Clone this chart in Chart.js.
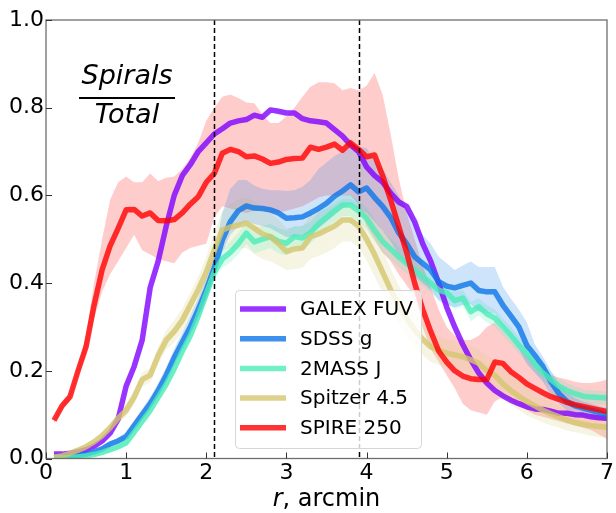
<!DOCTYPE html>
<html>
<head>
<meta charset="utf-8">
<script src="https://cdn.jsdelivr.net/npm/chart.js@4.4.1/dist/chart.umd.min.js"></script>
<style>
  body { margin: 0; background: #fff; }
  #wrap { width: 616px; height: 513px; position: relative; }
</style>
</head>
<body>
<div id="wrap"><canvas id="chart"></canvas></div>
<script>
// radius in arcmin, 0.1 step
const r = [0.1,0.2,0.3,0.4,0.5,0.6,0.7,0.8,0.9,1.0,
  1.1,1.2,1.3,1.4,1.5,1.6,1.7,1.8,1.9,2.0,
  2.1,2.2,2.3,2.4,2.5,2.6,2.7,2.8,2.9,3.0,
  3.1,3.2,3.3,3.4,3.5,3.6,3.7,3.8,3.9,4.0,
  4.1,4.2,4.3,4.4,4.5,4.6,4.7,4.8,4.9,5.0,
  5.1,5.2,5.3,5.4,5.5,5.6,5.7,5.8,5.9,6.0,
  6.1,6.2,6.3,6.4,6.5,6.6,6.7,6.8,6.9,7.0];

const galex = [0.010,0.010,0.012,0.015,0.020,0.028,0.040,0.058,0.090,0.165,
  0.210,0.270,0.390,0.450,0.530,0.600,0.645,0.670,0.700,0.720,
  0.740,0.752,0.765,0.770,0.773,0.783,0.778,0.795,0.792,0.788,
  0.788,0.775,0.770,0.768,0.765,0.750,0.735,0.715,0.700,0.665,
  0.645,0.630,0.605,0.585,0.575,0.540,0.490,0.450,0.400,0.345,
  0.300,0.260,0.225,0.195,0.172,0.155,0.143,0.133,0.125,0.118,
  0.113,0.112,0.108,0.103,0.103,0.100,0.099,0.095,0.093,0.092];

const sdss = [0.003,0.004,0.005,0.007,0.010,0.015,0.022,0.033,0.040,0.050,
  0.075,0.100,0.125,0.155,0.190,0.230,0.265,0.300,0.340,0.385,
  0.435,0.498,0.540,0.565,0.576,0.571,0.570,0.567,0.560,0.548,
  0.549,0.551,0.560,0.570,0.582,0.598,0.610,0.624,0.608,0.617,
  0.595,0.575,0.550,0.515,0.490,0.460,0.445,0.430,0.403,0.393,
  0.389,0.395,0.400,0.383,0.380,0.380,0.350,0.325,0.300,0.258,
  0.235,0.210,0.175,0.148,0.130,0.120,0.115,0.110,0.105,0.100];
const sdssHi = [0.005,0.006,0.007,0.010,0.013,0.019,0.027,0.039,0.048,0.060,
  0.087,0.113,0.140,0.172,0.208,0.250,0.287,0.325,0.366,0.413,
  0.470,0.560,0.615,0.635,0.635,0.622,0.615,0.612,0.612,0.610,
  0.612,0.620,0.635,0.660,0.675,0.690,0.700,0.710,0.710,0.708,
  0.680,0.660,0.630,0.600,0.570,0.540,0.510,0.490,0.460,0.445,
  0.430,0.440,0.449,0.437,0.437,0.437,0.392,0.365,0.340,0.310,
  0.260,0.232,0.200,0.170,0.150,0.138,0.130,0.125,0.120,0.115];
const sdssLo = [0.001,0.002,0.003,0.004,0.007,0.011,0.017,0.027,0.033,0.042,
  0.065,0.088,0.112,0.140,0.174,0.212,0.245,0.280,0.318,0.360,
  0.410,0.470,0.510,0.530,0.540,0.535,0.530,0.525,0.515,0.505,
  0.505,0.508,0.515,0.525,0.540,0.555,0.570,0.580,0.570,0.560,
  0.540,0.520,0.495,0.465,0.440,0.415,0.400,0.385,0.360,0.350,
  0.345,0.350,0.352,0.335,0.332,0.330,0.300,0.275,0.250,0.215,
  0.195,0.175,0.145,0.125,0.110,0.102,0.097,0.093,0.089,0.085];

const twomass = [0.002,0.002,0.003,0.004,0.006,0.009,0.014,0.020,0.027,0.036,
  0.060,0.085,0.110,0.140,0.170,0.205,0.245,0.280,0.325,0.375,
  0.425,0.455,0.470,0.490,0.514,0.494,0.500,0.506,0.495,0.491,
  0.506,0.503,0.515,0.535,0.550,0.565,0.578,0.578,0.565,0.548,
  0.520,0.495,0.478,0.460,0.445,0.430,0.415,0.400,0.384,0.378,
  0.360,0.366,0.335,0.346,0.330,0.320,0.300,0.280,0.258,0.240,
  0.215,0.195,0.180,0.165,0.155,0.148,0.142,0.140,0.139,0.138];
const twomassHi = [0.004,0.004,0.005,0.006,0.009,0.013,0.019,0.026,0.034,0.044,
  0.070,0.096,0.122,0.153,0.184,0.220,0.260,0.296,0.342,0.392,
  0.442,0.475,0.495,0.515,0.540,0.525,0.530,0.535,0.525,0.520,
  0.530,0.530,0.540,0.560,0.575,0.590,0.602,0.602,0.590,0.572,
  0.545,0.520,0.502,0.484,0.468,0.452,0.437,0.422,0.405,0.398,
  0.380,0.385,0.357,0.366,0.350,0.340,0.320,0.300,0.278,0.258,
  0.233,0.212,0.197,0.182,0.172,0.165,0.158,0.156,0.154,0.153];
const twomassLo = [0.000,0.000,0.001,0.002,0.003,0.005,0.009,0.014,0.020,0.028,
  0.050,0.074,0.098,0.127,0.156,0.190,0.230,0.264,0.308,0.358,
  0.408,0.435,0.447,0.466,0.490,0.468,0.474,0.480,0.468,0.463,
  0.480,0.477,0.490,0.510,0.525,0.540,0.553,0.553,0.540,0.523,
  0.495,0.470,0.454,0.436,0.422,0.408,0.393,0.378,0.363,0.357,
  0.340,0.347,0.313,0.326,0.310,0.300,0.280,0.260,0.238,0.222,
  0.197,0.178,0.163,0.148,0.138,0.131,0.126,0.124,0.123,0.122];

const spitzer = [0.003,0.006,0.012,0.019,0.027,0.038,0.052,0.070,0.092,0.110,
  0.140,0.180,0.190,0.235,0.270,0.290,0.315,0.350,0.385,0.425,
  0.475,0.521,0.528,0.532,0.537,0.525,0.512,0.506,0.490,0.472,
  0.478,0.480,0.506,0.512,0.521,0.530,0.544,0.544,0.530,0.500,
  0.465,0.425,0.385,0.350,0.320,0.293,0.272,0.255,0.247,0.240,
  0.236,0.232,0.225,0.217,0.200,0.190,0.170,0.155,0.142,0.130,
  0.120,0.110,0.102,0.095,0.088,0.082,0.078,0.075,0.073,0.071];
const spitzerHi = [0.005,0.009,0.016,0.024,0.033,0.045,0.060,0.080,0.104,0.124,
  0.156,0.196,0.206,0.255,0.292,0.315,0.342,0.378,0.415,0.460,
  0.515,0.565,0.580,0.590,0.595,0.585,0.570,0.560,0.545,0.525,
  0.528,0.530,0.555,0.562,0.570,0.580,0.592,0.592,0.578,0.550,
  0.515,0.475,0.432,0.395,0.362,0.332,0.308,0.290,0.280,0.272,
  0.268,0.264,0.258,0.250,0.234,0.224,0.204,0.188,0.175,0.162,
  0.150,0.138,0.128,0.120,0.112,0.105,0.100,0.096,0.093,0.091];
const spitzerLo = [0.001,0.003,0.008,0.014,0.021,0.031,0.044,0.060,0.080,0.096,
  0.124,0.164,0.174,0.215,0.248,0.265,0.288,0.322,0.355,0.390,
  0.435,0.475,0.478,0.478,0.480,0.466,0.455,0.450,0.440,0.430,
  0.432,0.435,0.455,0.462,0.470,0.480,0.495,0.495,0.482,0.452,
  0.415,0.378,0.340,0.305,0.278,0.254,0.236,0.220,0.214,0.208,
  0.204,0.200,0.192,0.184,0.166,0.156,0.136,0.122,0.110,0.098,
  0.090,0.082,0.076,0.070,0.064,0.060,0.056,0.052,0.049,0.046];

const spire = [0.087,0.120,0.141,0.200,0.255,0.350,0.430,0.485,0.525,0.567,
  0.568,0.553,0.560,0.543,0.542,0.545,0.560,0.580,0.597,0.630,
  0.650,0.696,0.705,0.700,0.688,0.690,0.683,0.673,0.676,0.682,
  0.684,0.685,0.710,0.705,0.710,0.717,0.703,0.720,0.705,0.688,
  0.692,0.645,0.590,0.530,0.470,0.400,0.340,0.290,0.245,0.220,
  0.200,0.188,0.182,0.180,0.180,0.220,0.217,0.198,0.185,0.170,
  0.160,0.150,0.141,0.135,0.128,0.123,0.119,0.115,0.111,0.107];
const spireHi = [0.090,0.125,0.150,0.210,0.280,0.400,0.500,0.590,0.630,0.643,
  0.630,0.630,0.650,0.633,0.640,0.643,0.660,0.685,0.720,0.770,
  0.800,0.825,0.830,0.822,0.812,0.810,0.785,0.765,0.765,0.780,
  0.800,0.825,0.848,0.858,0.858,0.856,0.840,0.845,0.840,0.850,
  0.879,0.830,0.740,0.640,0.560,0.500,0.440,0.390,0.340,0.300,
  0.280,0.270,0.270,0.280,0.300,0.310,0.290,0.270,0.250,0.235,
  0.220,0.205,0.190,0.185,0.180,0.175,0.172,0.172,0.175,0.180];
const spireLo = [0.080,0.112,0.133,0.190,0.240,0.320,0.380,0.420,0.450,0.480,
  0.510,0.475,0.465,0.455,0.450,0.445,0.470,0.480,0.485,0.490,
  0.550,0.575,0.570,0.565,0.560,0.565,0.567,0.560,0.560,0.565,
  0.570,0.575,0.585,0.595,0.600,0.600,0.600,0.600,0.580,0.530,
  0.500,0.470,0.450,0.420,0.395,0.370,0.300,0.250,0.220,0.190,
  0.160,0.125,0.110,0.105,0.100,0.130,0.140,0.130,0.120,0.110,
  0.100,0.095,0.090,0.085,0.080,0.075,0.070,0.065,0.055,0.045];

const xTicks = [0, 1, 2, 3, 4, 5, 6, 7];
const yTicks = [0, 0.2, 0.4, 0.6, 0.8, 1.0];
const dashedAt = [2.1, 3.9];

const FONT = "'DejaVu Sans', sans-serif";

function pts(ys) {
  return r.map((x, i) => ({ x: x, y: ys[i] }));
}

function line(label, ys, color, order) {
  return {
    label: label, data: pts(ys), borderColor: color, borderWidth: 5.5,
    pointRadius: 0, fill: false, tension: 0, order: order,
    borderJoinStyle: 'round', borderCapStyle: 'butt'
  };
}

function band(ys, color, fill, order) {
  return {
    label: '', data: pts(ys), borderWidth: 0, borderColor: 'rgba(0,0,0,0)',
    backgroundColor: color, pointRadius: 0, fill: fill, order: order, isBand: true
  };
}

const datasets = [
  line('GALEX FUV', galex, 'rgba(128,0,255,0.8)', 5),
  line('SDSS g', sdss, 'rgba(12,118,232,0.8)', 4),
  line('2MASS J', twomass, 'rgba(75,236,185,0.8)', 3),
  line('Spitzer 4.5', spitzer, 'rgba(212,198,110,0.8)', 2),
  line('SPIRE 250', spire, 'rgba(255,0,0,0.8)', 1),
  band(sdssHi, 'rgba(12,118,232,0.2)', '+1', 20),
  band(sdssLo, 'rgba(0,0,0,0)', false, 21),
  band(twomassHi, 'rgba(75,236,185,0.2)', '+1', 22),
  band(twomassLo, 'rgba(0,0,0,0)', false, 23),
  band(spitzerHi, 'rgba(212,198,110,0.2)', '+1', 24),
  band(spitzerLo, 'rgba(0,0,0,0)', false, 25),
  band(spireHi, 'rgba(255,0,0,0.2)', '+1', 26),
  band(spireLo, 'rgba(0,0,0,0)', false, 27)
];

// inward ticks, frame, dashed markers, fraction text, legend, x title
const decorPlugin = {
  id: 'decor',
  afterDraw(chart) {
    const ctx = chart.ctx;
    const a = chart.chartArea;
    const xs = chart.scales.x, ys = chart.scales.y;

    // dashed markers
    ctx.save();
    ctx.strokeStyle = '#000';
    ctx.lineWidth = 1.5;
    ctx.setLineDash([5, 3]);
    dashedAt.forEach(v => {
      const px = Math.round(xs.getPixelForValue(v)) + 0.5;
      ctx.beginPath();
      ctx.moveTo(px, a.top);
      ctx.lineTo(px, a.bottom);
      ctx.stroke();
    });
    ctx.restore();

    // frame
    ctx.save();
    ctx.strokeStyle = '#6e6e6e';
    ctx.lineWidth = 1.3;
    ctx.strokeRect(a.left, a.top, a.right - a.left, a.bottom - a.top);
    // ticks pointing in
    ctx.strokeStyle = '#333';
    ctx.lineWidth = 1;
    xTicks.forEach(v => {
      const px = Math.round(xs.getPixelForValue(v)) + 0.5;
      ctx.beginPath();
      ctx.moveTo(px, a.bottom);
      ctx.lineTo(px, a.bottom - 6);
      ctx.stroke();
    });
    yTicks.forEach(v => {
      const py = Math.round(ys.getPixelForValue(v)) + 0.5;
      ctx.beginPath();
      ctx.moveTo(a.left, py);
      ctx.lineTo(a.left + 6, py);
      ctx.stroke();
    });
    ctx.restore();

    // Spirals / Total
    ctx.save();
    ctx.fillStyle = '#000';
    ctx.font = 'italic 27px ' + FONT;
    ctx.textAlign = 'center';
    ctx.textBaseline = 'alphabetic';
    ctx.fillText('Spirals', 127, 84);
    ctx.fillText('Total', 127, 123);
    ctx.fillRect(79, 97, 96, 2);
    ctx.restore();

    // x axis title: italic r + ", arcmin"
    ctx.save();
    ctx.fillStyle = '#000';
    ctx.textBaseline = 'alphabetic';
    ctx.textAlign = 'left';
    ctx.font = 'italic 24px ' + FONT;
    const t1 = 'r';
    const w1 = ctx.measureText(t1).width;
    ctx.font = '24px ' + FONT;
    const t2 = ', arcmin';
    const w2 = ctx.measureText(t2).width;
    const x0 = (a.left + a.right) / 2 - (w1 + w2) / 2;
    ctx.font = 'italic 24px ' + FONT;
    ctx.fillText(t1, x0, 506);
    ctx.font = '24px ' + FONT;
    ctx.fillText(t2, x0 + w1, 506);
    ctx.restore();

    // legend
    const items = chart.data.datasets.filter(d => !d.isBand);
    ctx.save();
    const bx = 235.5, by = 290.5, bw = 186, bh = 158, rad = 4;
    ctx.beginPath();
    ctx.moveTo(bx + rad, by);
    ctx.arcTo(bx + bw, by, bx + bw, by + bh, rad);
    ctx.arcTo(bx + bw, by + bh, bx, by + bh, rad);
    ctx.arcTo(bx, by + bh, bx, by, rad);
    ctx.arcTo(bx, by, bx + bw, by, rad);
    ctx.closePath();
    ctx.fillStyle = 'rgba(255,255,255,0.8)';
    ctx.fill();
    ctx.strokeStyle = '#d6d6d6';
    ctx.lineWidth = 1;
    ctx.stroke();
    ctx.font = '20px ' + FONT;
    ctx.textBaseline = 'middle';
    ctx.textAlign = 'left';
    items.forEach((d, i) => {
      const yy = 309 + i * 29.7;
      ctx.strokeStyle = d.borderColor;
      ctx.lineWidth = 5.5;
      ctx.beginPath();
      ctx.moveTo(240, yy);
      ctx.lineTo(286, yy);
      ctx.stroke();
      ctx.fillStyle = '#000';
      ctx.fillText(d.label, 300, yy + 1);
    });
    ctx.restore();
  }
};

new Chart(document.getElementById('chart'), {
  type: 'line',
  data: { datasets: datasets },
  options: {
    responsive: true,
    maintainAspectRatio: false,
    animation: false,
    layout: { padding: { top: 20, right: 6, left: 0, bottom: 0 } },
    plugins: {
      legend: { display: false },
      tooltip: { enabled: false },
      filler: { propagate: false }
    },
    scales: {
      x: {
        type: 'linear', min: 0, max: 7,
        afterFit(scale) { scale.height = 54.5; },
        afterBuildTicks(scale) { scale.ticks = xTicks.map(v => ({ value: v })); },
        grid: { display: false, drawTicks: false },
        border: { display: false },
        ticks: {
          padding: 2, color: '#000', maxRotation: 0,
          font: { family: FONT, size: 22 },
          callback: v => String(v)
        }
      },
      y: {
        type: 'linear', min: 0, max: 1,
        afterFit(scale) { scale.width = 46; },
        afterBuildTicks(scale) { scale.ticks = yTicks.map(v => ({ value: v })); },
        grid: { display: false, drawTicks: false },
        border: { display: false },
        ticks: {
          padding: 2, color: '#000',
          font: { family: FONT, size: 22 },
          callback: v => v.toFixed(1)
        }
      }
    }
  },
  plugins: [decorPlugin]
});
</script>
</body>
</html>
